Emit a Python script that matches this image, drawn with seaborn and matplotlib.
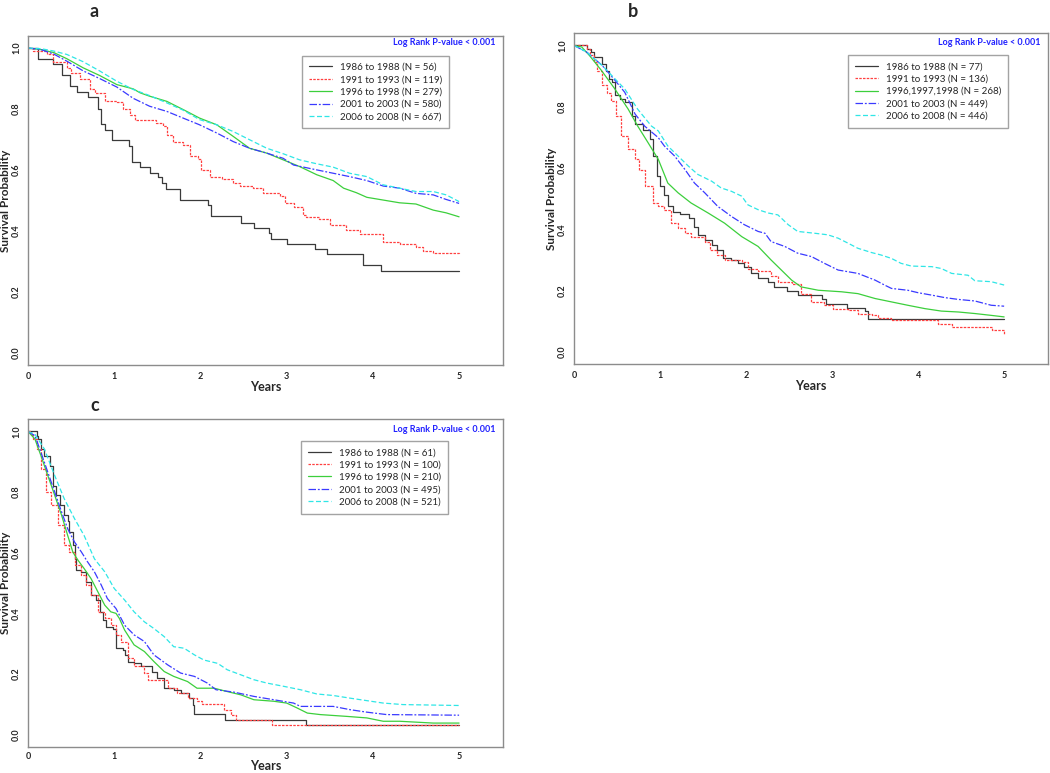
import numpy as np
import pandas as pd
import matplotlib
matplotlib.use("Agg")
import matplotlib.pyplot as plt
import seaborn as sns

sns.set_style("white")
plt.rcParams['font.family'] = ['Lato', 'DejaVu Sans']

# ---- panel a ----
a_labels = ["1986 to 1988 (N = 56)", "1991 to 1993 (N = 119)", "1996 to 1998 (N = 279)",
            "2001 to 2003 (N = 580)", "2006 to 2008 (N = 667)"]
a86_t = [0, 0.12, 0.29, 0.39, 0.49, 0.57, 0.69, 0.815, 0.85, 0.89, 0.97, 1.17, 1.21, 1.30, 1.41, 1.51,
         1.55, 1.60, 1.76, 2.09, 2.12, 2.47, 2.62, 2.80, 2.82, 3.00, 3.33, 3.47, 3.88, 4.10, 5.0]
a86_s = [1.0, 0.964, 0.949, 0.913, 0.877, 0.856, 0.84, 0.80, 0.75, 0.73, 0.697, 0.677, 0.626, 0.609, 0.589,
         0.576, 0.558, 0.536, 0.501, 0.485, 0.448, 0.427, 0.41, 0.393, 0.374, 0.358, 0.341, 0.323, 0.287,
         0.268, 0.268]
a91_t = [0, 0.06, 0.22, 0.29, 0.45, 0.5, 0.6, 0.72, 0.78, 0.89, 1.03, 1.1, 1.18, 1.24, 1.49, 1.57, 1.61,
         1.68, 1.8, 1.88, 1.97, 2.01, 2.11, 2.25, 2.38, 2.46, 2.61, 2.73, 2.92, 2.98, 3.08, 3.19, 3.23, 3.38,
         3.5, 3.69, 3.85, 4.12, 4.31, 4.5, 4.58, 4.7, 5.0]
a91_s = [1.0, 0.99, 0.98, 0.955, 0.935, 0.919, 0.897, 0.864, 0.853, 0.825, 0.822, 0.80, 0.78, 0.765, 0.754,
         0.743, 0.715, 0.693, 0.682, 0.644, 0.637, 0.60, 0.578, 0.569, 0.556, 0.547, 0.54, 0.523, 0.514,
         0.49, 0.479, 0.452, 0.446, 0.44, 0.419, 0.404, 0.391, 0.364, 0.358, 0.347, 0.334, 0.327, 0.325]
a96_t = [0, 0.15, 0.3, 0.45, 0.64, 0.83, 1.03, 1.22, 1.3, 1.41, 1.61, 1.8, 1.99, 2.19, 2.38, 2.57, 2.77,
         2.96, 3.15, 3.35, 3.54, 3.66, 3.81, 3.93, 4.12, 4.31, 4.5, 4.7, 4.85, 5.0]
a96_s = [1.0, 0.995, 0.985, 0.965, 0.935, 0.91, 0.88, 0.866, 0.853, 0.842, 0.825, 0.798, 0.77, 0.748, 0.71,
         0.671, 0.655, 0.633, 0.611, 0.584, 0.565, 0.54, 0.525, 0.51, 0.501, 0.492, 0.488, 0.468, 0.459, 0.446]
a01_t = [0, 0.15, 0.3, 0.45, 0.64, 0.83, 1.03, 1.22, 1.41, 1.61, 1.8, 1.99, 2.19, 2.38, 2.57, 2.77, 2.96,
         3.08, 3.35, 3.54, 3.73, 3.93, 4.12, 4.31, 4.5, 4.7, 4.85, 5.0]
a01_s = [1.0, 0.995, 0.98, 0.957, 0.925, 0.90, 0.872, 0.835, 0.809, 0.792, 0.77, 0.748, 0.721, 0.693, 0.671,
         0.655, 0.638, 0.616, 0.60, 0.589, 0.578, 0.565, 0.547, 0.54, 0.523, 0.518, 0.503, 0.49]
a06_t = [0, 0.15, 0.3, 0.45, 0.64, 0.83, 1.03, 1.22, 1.41, 1.61, 1.8, 1.99, 2.19, 2.38, 2.57, 2.77, 2.96,
         3.15, 3.35, 3.54, 3.73, 3.93, 4.12, 4.31, 4.5, 4.7, 4.85, 5.0]
a06_s = [1.0, 0.998, 0.99, 0.979, 0.955, 0.925, 0.891, 0.864, 0.844, 0.82, 0.796, 0.765, 0.748, 0.726, 0.699,
         0.671, 0.653, 0.633, 0.62, 0.609, 0.589, 0.578, 0.551, 0.54, 0.529, 0.529, 0.518, 0.496]

# ---- panel b ----
b_labels = ["1986 to 1988 (N = 77)", "1991 to 1993 (N = 136)", "1996,1997,1998 (N = 268)",
            "2001 to 2003 (N = 449)", "2006 to 2008 (N = 446)"]
b86_t = [0, 0.15, 0.2, 0.235, 0.33, 0.37, 0.41, 0.44, 0.48, 0.53, 0.59, 0.67, 0.71, 0.8, 0.88, 0.92, 0.96,
         1.0, 1.05, 1.09, 1.15, 1.23, 1.34, 1.4, 1.44, 1.52, 1.6, 1.66, 1.73, 1.83, 1.91, 1.98, 2.06, 2.14,
         2.26, 2.33, 2.47, 2.6, 2.88, 2.93, 3.17, 3.38, 3.42, 5.0]
b86_s = [1.0, 0.989, 0.978, 0.962, 0.94, 0.918, 0.89, 0.88, 0.84, 0.825, 0.814, 0.77, 0.743, 0.724, 0.694,
         0.639, 0.573, 0.54, 0.513, 0.475, 0.458, 0.451, 0.437, 0.409, 0.382, 0.365, 0.349, 0.333, 0.305,
         0.30, 0.289, 0.278, 0.256, 0.24, 0.229, 0.212, 0.199, 0.185, 0.171, 0.155, 0.144, 0.133, 0.108, 0.108]
b91_t = [0, 0.15, 0.19, 0.23, 0.27, 0.33, 0.38, 0.43, 0.49, 0.55, 0.63, 0.71, 0.76, 0.82, 0.92, 0.98, 1.05,
         1.13, 1.21, 1.29, 1.36, 1.52, 1.58, 1.66, 1.75, 1.95, 2.02, 2.14, 2.29, 2.37, 2.53, 2.64, 2.76,
         2.91, 3.01, 3.19, 3.3, 3.46, 3.53, 3.69, 4.23, 4.39, 4.86, 5.0]
b91_s = [1.0, 0.99, 0.97, 0.945, 0.918, 0.87, 0.845, 0.82, 0.77, 0.705, 0.661, 0.628, 0.595, 0.54, 0.486,
         0.475, 0.464, 0.42, 0.404, 0.387, 0.376, 0.36, 0.333, 0.316, 0.30, 0.294, 0.272, 0.265, 0.247,
         0.229, 0.221, 0.19, 0.163, 0.152, 0.141, 0.136, 0.125, 0.119, 0.112, 0.105, 0.092, 0.081, 0.07, 0.057]
b96_t = [0, 0.09, 0.18, 0.32, 0.47, 0.63, 0.74, 0.86, 0.98, 1.09, 1.21, 1.36, 1.56, 1.75, 1.95, 2.14, 2.29,
         2.41, 2.53, 2.64, 2.84, 3.11, 3.3, 3.5, 3.69, 3.88, 4.08, 4.27, 4.47, 4.66, 4.85, 5.0]
b96_s = [1.0, 0.995, 0.967, 0.918, 0.86, 0.792, 0.737, 0.683, 0.628, 0.551, 0.519, 0.486, 0.453, 0.42,
         0.376, 0.344, 0.30, 0.267, 0.234, 0.212, 0.201, 0.196, 0.19, 0.174, 0.163, 0.152, 0.141, 0.133,
         0.13, 0.125, 0.119, 0.114]
b01_t = [0, 0.15, 0.33, 0.48, 0.59, 0.71, 0.82, 0.98, 1.05, 1.17, 1.29, 1.4, 1.52, 1.67, 1.83, 1.98, 2.14,
         2.22, 2.29, 2.45, 2.6, 2.76, 2.91, 3.07, 3.3, 3.5, 3.61, 3.69, 3.88, 4.0, 4.16, 4.31, 4.47, 4.66,
         4.85, 5.0]
b01_s = [1.0, 0.978, 0.934, 0.885, 0.847, 0.776, 0.737, 0.699, 0.672, 0.639, 0.595, 0.551, 0.519, 0.475,
         0.442, 0.415, 0.393, 0.387, 0.36, 0.344, 0.322, 0.311, 0.289, 0.267, 0.256, 0.234, 0.218, 0.207,
         0.201, 0.193, 0.185, 0.177, 0.171, 0.166, 0.152, 0.149]
b06_t = [0, 0.15, 0.33, 0.48, 0.59, 0.74, 0.9, 0.98, 1.09, 1.21, 1.33, 1.44, 1.6, 1.71, 1.83, 1.95, 2.02,
         2.14, 2.26, 2.37, 2.49, 2.6, 2.8, 2.95, 3.07, 3.19, 3.3, 3.46, 3.57, 3.69, 3.8, 3.92, 4.16, 4.27,
         4.39, 4.58, 4.66, 4.85, 5.0]
b06_s = [1.0, 0.978, 0.934, 0.89, 0.858, 0.792, 0.737, 0.721, 0.672, 0.639, 0.606, 0.579, 0.557, 0.535,
         0.524, 0.508, 0.48, 0.464, 0.453, 0.447, 0.415, 0.393, 0.387, 0.382, 0.371, 0.354, 0.338, 0.324,
         0.316, 0.305, 0.289, 0.28, 0.278, 0.272, 0.256, 0.25, 0.232, 0.229, 0.218]

# ---- panel c ----
c_labels = ["1986 to 1988 (N = 61)", "1991 to 1993 (N = 100)", "1996 to 1998 (N = 210)",
            "2001 to 2003 (N = 495)", "2006 to 2008 (N = 521)"]
c86_t = [0, 0.1, 0.12, 0.15, 0.19, 0.25, 0.29, 0.33, 0.37, 0.42, 0.46, 0.48, 0.52, 0.54, 0.56, 0.62, 0.67,
         0.73, 0.79, 0.83, 0.87, 0.91, 0.98, 1.02, 1.1, 1.12, 1.16, 1.23, 1.31, 1.44, 1.5, 1.58, 1.69, 1.77,
         1.87, 1.91, 1.93, 2.29, 3.23, 5.0]
c86_s = [1.0, 0.984, 0.975, 0.942, 0.92, 0.887, 0.821, 0.789, 0.756, 0.723, 0.706, 0.668, 0.624, 0.58,
         0.542, 0.537, 0.504, 0.46, 0.444, 0.405, 0.378, 0.356, 0.35, 0.285, 0.279, 0.263, 0.241, 0.235,
         0.225, 0.208, 0.186, 0.153, 0.148, 0.137, 0.12, 0.099, 0.068, 0.049, 0.033, 0.033]
c91_t = [0, 0.03, 0.06, 0.1, 0.15, 0.21, 0.27, 0.35, 0.42, 0.48, 0.54, 0.62, 0.67, 0.73, 0.81, 0.89, 0.96,
         1.02, 1.08, 1.16, 1.23, 1.35, 1.39, 1.62, 1.73, 1.85, 1.96, 2.02, 2.27, 2.35, 2.41, 2.83, 5.0]
c91_s = [1.0, 0.99, 0.975, 0.942, 0.876, 0.80, 0.756, 0.69, 0.624, 0.602, 0.559, 0.526, 0.493, 0.46, 0.405,
         0.383, 0.361, 0.329, 0.307, 0.252, 0.225, 0.203, 0.181, 0.153, 0.137, 0.12, 0.11, 0.101, 0.082,
         0.066, 0.049, 0.033, 0.033]
c96_t = [0, 0.08, 0.15, 0.23, 0.31, 0.39, 0.46, 0.52, 0.58, 0.65, 0.73, 0.81, 0.89, 0.96, 1.02, 1.06, 1.12,
         1.23, 1.35, 1.46, 1.58, 1.69, 1.85, 1.96, 2.16, 2.31, 2.47, 2.62, 2.85, 3.0, 3.12, 3.24, 3.39, 3.7,
         3.93, 4.12, 4.31, 4.7, 5.0]
c96_s = [1.0, 0.975, 0.92, 0.854, 0.789, 0.723, 0.657, 0.602, 0.575, 0.548, 0.515, 0.471, 0.427, 0.405,
         0.40, 0.383, 0.345, 0.296, 0.274, 0.241, 0.208, 0.192, 0.175, 0.153, 0.153, 0.142, 0.131, 0.115,
         0.11, 0.104, 0.088, 0.071, 0.066, 0.06, 0.055, 0.044, 0.044, 0.038, 0.038]
c01_t = [0, 0.08, 0.15, 0.23, 0.31, 0.39, 0.46, 0.54, 0.62, 0.69, 0.77, 0.85, 0.92, 1.02, 1.12, 1.23, 1.35,
         1.46, 1.62, 1.77, 1.93, 2.08, 2.18, 2.39, 2.62, 2.85, 3.08, 3.16, 3.54, 3.74, 3.93, 4.16, 5.0]
c01_s = [1.0, 0.986, 0.931, 0.865, 0.80, 0.734, 0.679, 0.635, 0.602, 0.57, 0.537, 0.493, 0.449, 0.416,
         0.361, 0.329, 0.307, 0.263, 0.23, 0.203, 0.192, 0.17, 0.148, 0.14, 0.126, 0.115, 0.104, 0.093,
         0.093, 0.082, 0.074, 0.066, 0.064]
c06_t = [0, 0.08, 0.19, 0.31, 0.42, 0.54, 0.65, 0.77, 0.89, 1.0, 1.12, 1.23, 1.35, 1.46, 1.58, 1.69, 1.81,
         1.93, 2.04, 2.2, 2.31, 2.47, 2.62, 2.77, 2.97, 3.16, 3.35, 3.54, 3.74, 3.93, 4.12, 4.35, 5.0]
c06_s = [1.0, 0.991, 0.942, 0.854, 0.778, 0.712, 0.657, 0.58, 0.537, 0.482, 0.444, 0.405, 0.372, 0.35,
         0.323, 0.29, 0.285, 0.263, 0.246, 0.235, 0.214, 0.197, 0.181, 0.17, 0.159, 0.148, 0.134, 0.129,
         0.12, 0.112, 0.104, 0.099, 0.096]

colors = ["#3a3a3a", "#ff4040", "#3ccf3c", "#3a3aff", "#2fe6e6"]
styles = ["-", (0, (2, 1)), "-", (0, (6, 1.5, 1.5, 1.5)), (0, (4, 2))]
steps = [True, True, False, False, False]
grey = "#8c8c8c"


def draw_panel(ax, series, labels, letter, letter_xy, lr_y, leg_xy, xpad=0, tickpad=2):
    for (t, s), lab, col, ls, st in zip(series, labels, colors, styles, steps):
        df = pd.DataFrame({"Years": t, "Survival": s})
        sns.lineplot(data=df, x="Years", y="Survival", ax=ax, color=col, linestyle=ls,
                     lw=0.9, label=lab, estimator=None, sort=False,
                     drawstyle="steps-post" if st else "default")
    ax.set_xlim(0, 5.51)
    ax.set_ylim(-0.04, 1.04)
    ax.set_xticks([0, 1, 2, 3, 4, 5])
    ax.set_yticks([0.0, 0.2, 0.4, 0.6, 0.8, 1.0])
    ax.set_yticklabels(["0.0", "0.2", "0.4", "0.6", "0.8", "1.0"], rotation=90, va="center")
    ax.tick_params(axis="both", labelsize=6.5, length=3, width=0.8, color=grey, pad=2)
    ax.tick_params(axis="x", pad=tickpad)
    for lbl in ax.get_xticklabels() + ax.get_yticklabels():
        lbl.set_fontweight("bold")
    for sp in ax.spines.values():
        sp.set_color(grey)
        sp.set_linewidth(1.0)
    ax.set_xlabel("Years", fontsize=9, fontweight="bold", labelpad=xpad)
    ax.set_ylabel("Survival Probability", fontsize=8.5, fontweight="bold", labelpad=1)
    ax.text(0.985, lr_y, "Log Rank P-value < 0.001", transform=ax.transAxes, ha="right", va="center",
            color="#2020ff", fontsize=6.5, fontweight="bold")
    leg = ax.legend(loc="upper left", bbox_to_anchor=leg_xy, fontsize=7, frameon=True, fancybox=False,
                    handlelength=2.4, handletextpad=0.8, labelspacing=0.35, borderpad=0.7,
                    borderaxespad=0)
    leg.get_frame().set_edgecolor(grey)
    leg.get_frame().set_linewidth(1.0)
    ax.text(letter_xy[0], letter_xy[1], letter, transform=ax.transAxes, ha="center", va="center",
            fontsize=13, fontweight="bold")


fig = plt.figure(figsize=(10.5, 7.73), dpi=100)
ax_a = fig.add_axes([0.0267, 0.528, 0.4524, 0.4256])
ax_b = fig.add_axes([0.5467, 0.529, 0.4514, 0.428])
ax_c = fig.add_axes([0.0267, 0.034, 0.4524, 0.4235])

draw_panel(ax_a, [(a86_t, a86_s), (a91_t, a91_s), (a96_t, a96_s), (a01_t, a01_s), (a06_t, a06_s)],
           a_labels, "a", (0.14, 1.075), 0.979, (0.577, 0.939))
draw_panel(ax_b, [(b86_t, b86_s), (b91_t, b91_s), (b96_t, b96_s), (b01_t, b01_s), (b06_t, b06_s)],
           b_labels, "b", (0.125, 1.065), 0.973, (0.578, 0.933))
draw_panel(ax_c, [(c86_t, c86_s), (c91_t, c91_s), (c96_t, c96_s), (c01_t, c01_s), (c06_t, c06_s)],
           c_labels, "c", (0.14, 1.042), 0.970, (0.575, 0.933), xpad=-1, tickpad=1)

fig.savefig("out.png", dpi=100)
